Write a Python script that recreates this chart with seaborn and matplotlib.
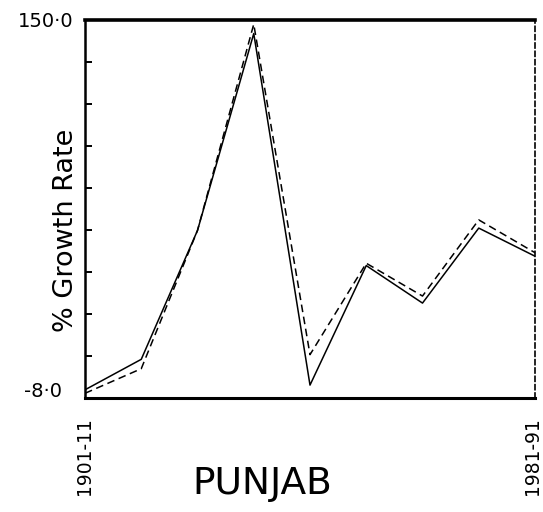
import matplotlib
matplotlib.use("Agg")
import matplotlib.pyplot as plt
import numpy as np
import pandas as pd
import seaborn as sns
from matplotlib.transforms import ScaledTranslation

# Decadal periods and the two growth-rate series (%)
periods = ["1901-11", "1911-21", "1921-31", "1931-41", "1941-51",
           "1951-61", "1961-71", "1971-81", "1981-91"]
growth_solid = [-8.0, 5.0, 60.0, 144.0, -6.0, 45.0, 29.0, 61.0, 49.0]
growth_dashed = [-9.5, 1.0, 60.0, 148.0, 7.0, 46.0, 32.0, 64.5, 50.5]

y_tick_values = [-8.0, 150.0]
y_tick_labels = ["-8·0", "150·0"]
x_tick_labels = [periods[0], periods[-1]]
title_text = "PUNJAB"
ylabel_text = "% Growth Rate"

sns.set_style("white")
plt.rcParams["font.family"] = ["DejaVu Sans"]
plt.rcParams.update({
    "text.color": "black",
    "axes.labelcolor": "black",
    "xtick.color": "black",
    "ytick.color": "black",
})

df = pd.DataFrame({
    "period": periods * 2,
    "growth": growth_solid + growth_dashed,
    "series": ["solid"] * len(periods) + ["dashed"] * len(periods),
})

W, H = 543, 512
fig = plt.figure(figsize=(W / 100, H / 100), dpi=100)
ax = fig.add_axes([85 / W, 1 - 398 / H, 450 / W, 378.5 / H])

sns.lineplot(data=df, x="period", y="growth", style="series",
             dashes={"solid": "", "dashed": (5, 3)}, color="black",
             linewidth=1.1, legend=False, sort=False, ax=ax)

ymin, ymax = -11.5, 150.0
ax.set_xlim(0, len(periods) - 1)
ax.set_ylim(ymin, ymax)

# frame: heavy top/left/bottom, broken right edge
for side, lw in (("top", 2.6), ("left", 1.8), ("bottom", 2.2)):
    ax.spines[side].set_linewidth(lw)
    ax.spines[side].set_color("black")
ax.spines["right"].set_linewidth(1.2)
ax.spines["right"].set_linestyle((0, (3, 2)))
ax.spines["right"].set_color("black")

# x: only the first and last period are labelled
ax.set_xticks([0, len(periods) - 1])
ax.set_xticklabels(x_tick_labels, rotation=90, va="top", ha="center")
ax.tick_params(axis="x", length=0, pad=14, labelsize=13.5)
lab_last = ax.get_xticklabels()[-1]
lab_last.set_fontsize(13.5)
lab_last.set_transform(lab_last.get_transform()
                       + ScaledTranslation(-2 / 100, 0, fig.dpi_scale_trans))
ax.set_xlabel("")

# y: end labels plus inward ticks dividing the axis
ax.set_yticks(y_tick_values)
ax.set_yticklabels(y_tick_labels)
ax.tick_params(axis="y", which="major", length=0, pad=8, labelsize=14)
ax.set_yticks(np.linspace(ymin, ymax, 10)[1:-1], minor=True)
ax.tick_params(axis="y", which="minor", direction="in", length=5,
               width=1.4, color="black", left=True)
lab_low = ax.get_yticklabels()[0]
lab_low.set_transform(lab_low.get_transform()
                      + ScaledTranslation(-12 / 100, 0, fig.dpi_scale_trans))
ax.set_ylabel("")

fig.text(66 / W, 1 - 230 / H, ylabel_text, rotation=90,
         ha="center", va="center", fontsize=19.5)
fig.text(262 / W, 1 - 484 / H, title_text, ha="center", va="center",
         fontsize=27)

fig.savefig("out.png", dpi=100, facecolor="white")
